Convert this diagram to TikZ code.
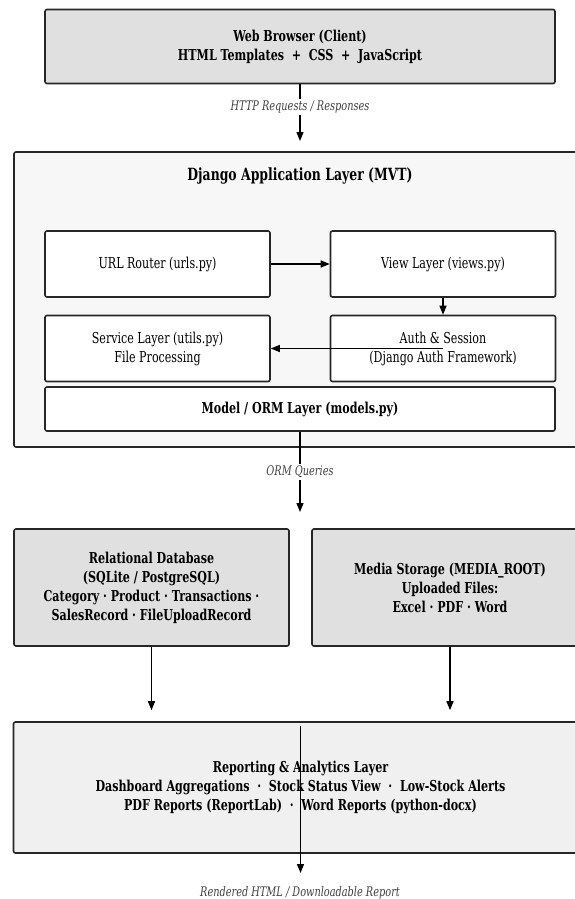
\documentclass[tikz,border=0pt]{standalone}
\usepackage{fontspec}
\setmainfont{DejaVu Serif}[FakeStretch=0.74]
\usetikzlibrary{arrows.meta}

\begin{document}
\begin{tikzpicture}
  [x=1pt,y=-1pt,
   every node/.style={align=center,font=\fontsize{15}{19}\selectfont},
   box/.style={draw=black!85,line width=1.6pt,rounded corners=2pt,inner sep=0pt},
   layer/.style={box,fill=black!12,font=\fontsize{15}{19}\selectfont\bfseries},
   part/.style={box,fill=white,minimum width=225,minimum height=66},
   lbl/.style={font=\fontsize{13.2}{15}\selectfont\itshape,text=black!75,fill=white,inner sep=2pt},
   arr/.style={-{Triangle[length=9pt,width=7pt]},line width=1.3pt}]
  \useasboundingbox (0,0) rectangle (575,899);
  \clip (0,0) rectangle (575,899);

  % client
  \node[layer,minimum width=510,minimum height=74] (web) at (300,46.5)
    {Web Browser (Client)\\HTML Templates \ + \ CSS \ + \ JavaScript};

  % django application
  \node[box,fill=black!3,minimum width=573,minimum height=295] (django) at (300.5,299.5) {};
  \node[font=\fontsize{16.8}{19}\selectfont\bfseries] (title) at (300,176) {Django Application Layer (MVT)};
  \node[part] (url) at (157.5,264) {URL Router (urls.py)};
  \node[part] (view) at (443,264) {View Layer (views.py)};
  \node[part] (service) at (157.5,348.5) {Service Layer (utils.py)\\File Processing};
  \node[part] (auth) at (443,348.5) {Auth \& Session\\(Django Auth Framework)};
  \node[box,fill=white,minimum width=510,minimum height=44,font=\fontsize{15}{19}\selectfont\bfseries]
    (model) at (300,409) {Model / ORM Layer (models.py)};

  % storage
  \node[layer,minimum width=275,minimum height=117] (db) at (151.5,587.5)
    {Relational Database\\(SQLite / PostgreSQL)\\Category · Product · Transactions ·\\SalesRecord · FileUploadRecord};
  \node[layer,minimum width=276,minimum height=117] (media) at (450,587.5)
    {Media Storage (MEDIA\_ROOT)\\Uploaded Files:\\Excel · PDF · Word};

  % reporting
  \node[box,fill=black!6,minimum width=574,minimum height=131,font=\fontsize{15}{19}\selectfont\bfseries]
    (report) at (300.5,787.5)
    {Reporting \& Analytics Layer\\Dashboard Aggregations \ · \ Stock Status View \ · \ Low-Stock Alerts\\PDF Reports (ReportLab) \ · \ Word Reports (python-docx)};

  \coordinate (httpend) at (300,141);
  \coordinate (ormend) at (300,512);
  \coordinate (outend) at (300.5,873);

  \draw[arr] (web) -- node[lbl,pos=0.4] (http) {HTTP Requests / Responses} (httpend);
  \draw[arr] (url) -- (view);
  \draw[arr] (view) -- (auth);
  \draw[arr] (auth.center) -- (service.east);
  \draw[arr] (model) -- node[lbl] (orm) {ORM Queries} (ormend);
  \foreach \from in {db,media}
    \draw[arr,shorten >=11pt] (\from) -- (\from |- report.north);
  \draw[arr,shorten <=5pt] (report.north) -- (outend);
  \node[lbl] (out) at (300,893) {Rendered HTML / Downloadable Report};
\end{tikzpicture}
\end{document}
